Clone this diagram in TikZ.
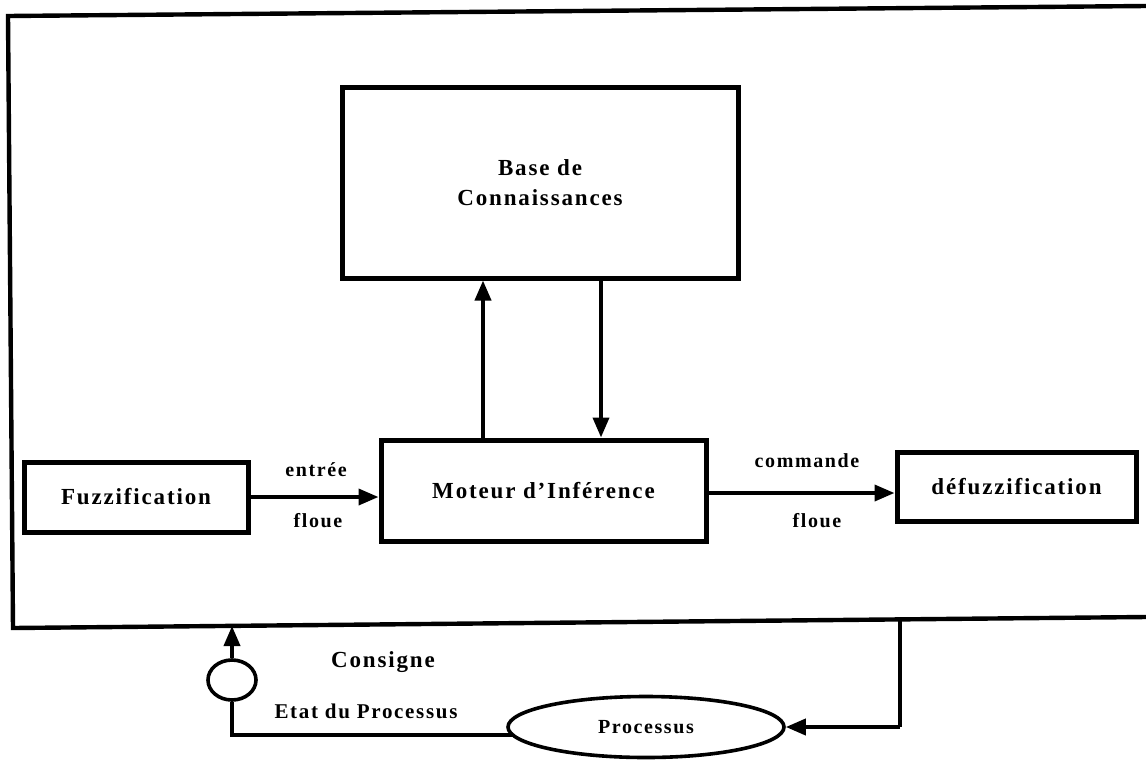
\documentclass[tikz,border=0pt]{standalone}
\usepackage{fontspec}
\setmainfont{Liberation Serif}
\newfontfamily\spacedserif[LetterSpace=8]{Liberation Serif}
\usetikzlibrary{arrows.meta,shapes.geometric}

\begin{document}
\begin{tikzpicture}[x=0.5pt,y=-0.5pt,
  block/.style={draw,line width=2.5pt,rectangle,inner sep=0pt,align=center,
    font=\spacedserif\bfseries\fontsize{11.5}{15}\selectfont},
  oval/.style={draw,line width=1.8pt,ellipse,inner sep=0pt},
  lbl/.style={inner sep=0pt,font=\spacedserif\bfseries\fontsize{10}{12}\selectfont},
  flow/.style={line width=1.9pt,-{Triangle[length=10pt,width=8pt]}},
  link/.style={line width=1.9pt},
  framestyle/.style={line width=2.2pt,line join=miter}]
\useasboundingbox (0,0) rectangle (1146,761);

% controller frame (open on the right)
\coordinate (ftr) at (1146,6);
\coordinate (ftl) at (8,16);
\coordinate (fbl) at (13,628);
\coordinate (fbr) at (1146,617);
\draw[framestyle] (ftr) -- (ftl) -- (fbl) -- (fbr);

% blocks of the fuzzy controller
\node[block,minimum width=198pt,minimum height=95.5pt] (base) at (540,182.5)
  {Base de\\Connaissances};
\node[block,minimum width=162.5pt,minimum height=50.5pt] (moteur) at (543.5,490.5)
  {Moteur d’Inférence};
\node[block,minimum width=112pt,minimum height=35pt] (fuzz) at (136,497)
  {Fuzzification};
\node[block,minimum width=119.5pt,minimum height=34.5pt] (defuzz) at (1016.5,486.5)
  {défuzzification};

% process loop
\node[oval,minimum width=24pt,minimum height=20pt] (comp) at (232,680) {};
\node[oval,minimum width=138pt,minimum height=30.5pt,
  font=\spacedserif\bfseries\fontsize{10}{12}\selectfont] (proc) at (646,727) {Processus};

% exchanges between inference engine and knowledge base
\coordinate (upx) at (483,0);
\coordinate (downx) at (601,0);
\draw[flow] (moteur.north -| upx) -- (base.south -| upx);
\draw[flow] (base.south -| downx) -- (moteur.north -| downx);

% fuzzy input and fuzzy command
\draw[flow] (fuzz.east) -- (moteur.west |- fuzz.east);
\coordinate (cmdy) at (0,493);
\draw[flow] (moteur.east |- cmdy) -- (defuzz.west |- cmdy);

\node[lbl] (entree) at (316,470) {entrée};
\node[lbl] (floue1) at (318,521) {floue};
\node[lbl] (commande) at (807,461) {commande};
\node[lbl] (floue2) at (817,521) {floue};

% feedback through the process
\coordinate (consTip) at (232,626);
\coordinate (procOut) at (900,619.4);
\coordinate (procIn) at (900,727);
\coordinate (loopCorner) at (232,735);
\coordinate (loopEnd) at (512,735);
\draw[flow] (comp.north) -- (consTip);
\draw[link,line join=miter] (procOut) -- (procIn);
\draw[flow] (procIn) -- (proc.east);
\draw[link,line join=miter] (comp.south) -- (loopCorner) -- (loopEnd);

\node[lbl,font=\spacedserif\bfseries\fontsize{11.5}{14}\selectfont] (consigne) at (383,662) {Consigne};
\node[lbl,font=\spacedserif\bfseries\fontsize{10.5}{12}\selectfont] (etat) at (366,711) {Etat du Processus};
\end{tikzpicture}
\end{document}
